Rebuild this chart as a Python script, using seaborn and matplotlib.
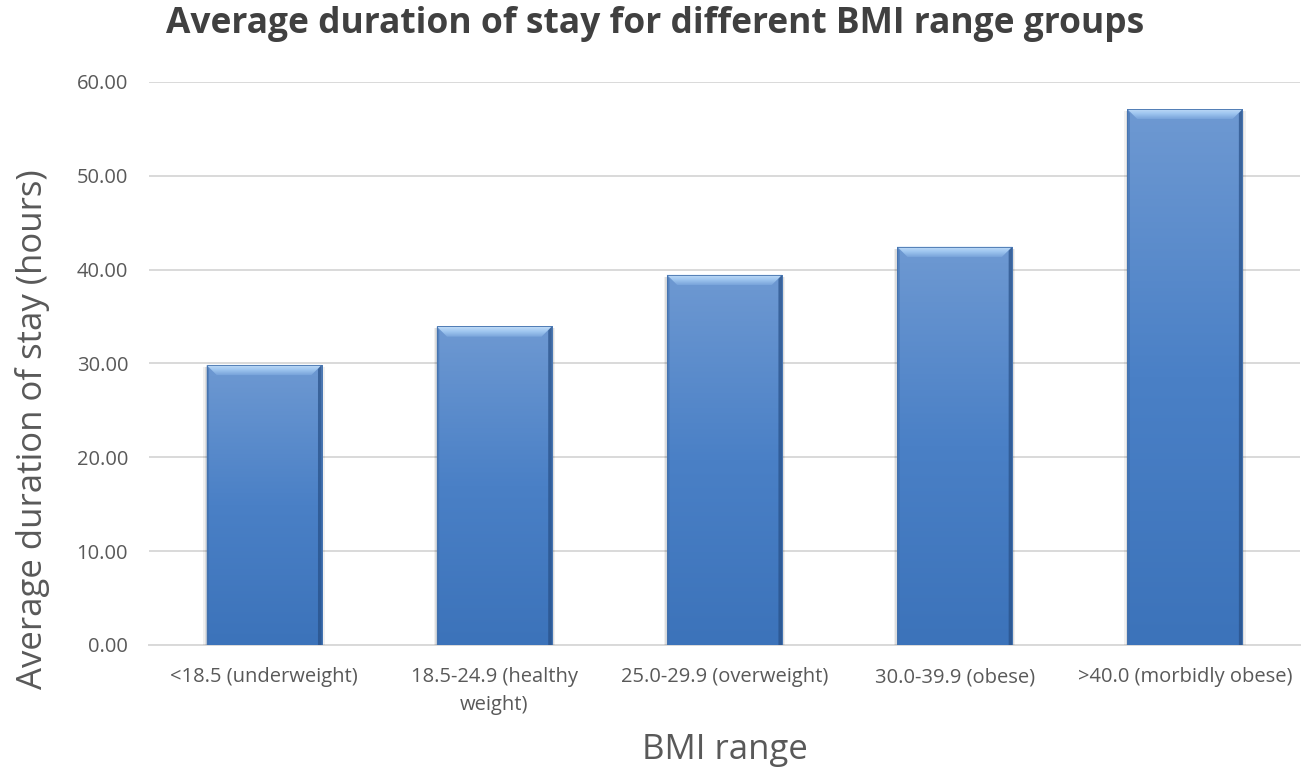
import numpy as np
import pandas as pd
import matplotlib
matplotlib.use("Agg")
import matplotlib.pyplot as plt
import seaborn as sns
from matplotlib.colors import LinearSegmentedColormap
from matplotlib.patches import Polygon, Rectangle

# BMI groups and their average length of stay (hours)
bmi_ranges = [
    "<18.5 (underweight)",
    "18.5-24.9 (healthy\nweight)",
    "25.0-29.9 (overweight)",
    "30.0-39.9 (obese)",
    ">40.0 (morbidly obese)",
]
avg_stay_hours = [29.85, 33.95, 39.45, 42.45, 57.10]
y_ticks = [0, 10, 20, 30, 40, 50, 60]

sns.set_theme(style="white")
plt.rcParams["font.family"] = ["Open Sans", "DejaVu Sans"]

df = pd.DataFrame({"bmi": bmi_ranges, "hours": avg_stay_hours})

fig = plt.figure(figsize=(13.02, 7.73), dpi=100)
ax = fig.add_axes([0.1144, 0.1656, 0.8841, 0.7284])

sns.barplot(data=df, x="bmi", y="hours", ax=ax, color="#4f81c4",
            width=0.5, saturation=1, zorder=3)

ax.set_ylim(0, 60)
ax.set_xlim(-0.5, len(bmi_ranges) - 0.5)
ax.set_yticks(y_ticks)
ax.set_yticklabels([f"{v:.2f}" for v in y_ticks])
ax.yaxis.grid(True, color="#d9d9d9", linewidth=1.4, zorder=0)
ax.xaxis.grid(False)
for side in ["top", "right", "left"]:
    ax.spines[side].set_visible(False)
ax.spines["bottom"].set_color("#d9d9d9")
ax.spines["bottom"].set_linewidth(1.4)
ax.spines["bottom"].set_zorder(1)
ax.tick_params(axis="both", length=0, labelsize=14.5, labelcolor="#595959")
ax.tick_params(axis="y", pad=15)
ax.tick_params(axis="x", pad=16)
for lbl in ax.get_xticklabels():
    lbl.set_linespacing(1.55)

# Vertical gradient fill with a soft bevel on each bar
body_cmap = LinearSegmentedColormap.from_list(
    "bar_body", ["#3c73ba", "#4a80c6", "#6e99d2"])
bevel_cmap = LinearSegmentedColormap.from_list(
    "bar_bevel", ["#78a3da", "#9fc6f0", "#c4def8"])
grad = np.linspace(0, 1, 256).reshape(-1, 1)
bev_h = 1.1      # bevel depth in data units
bev_w = 0.045    # bevel inset in category units
for patch in list(ax.patches):
    x0, y0 = patch.get_x(), patch.get_y()
    w, h = patch.get_width(), patch.get_height()
    x1, y1 = x0 + w, y0 + h
    # soft drop shadow on both sides
    for off, a in [(0.014, 0.06), (0.008, 0.08)]:
        ax.add_patch(Rectangle((x0 - off, y0), w + 2 * off, h - 0.2,
                               facecolor="#000000", alpha=a,
                               edgecolor="none", zorder=2.5))
    im = ax.imshow(grad, cmap=body_cmap, aspect="auto", origin="lower",
                   extent=[x0, x1, y0, y1], zorder=3.2)
    im.set_clip_path(patch)
    # top bevel: trapezoid lit from above
    top = Polygon([(x0, y1), (x1, y1), (x1 - bev_w, y1 - bev_h),
                   (x0 + bev_w, y1 - bev_h)], closed=True,
                  facecolor="none", edgecolor="none", zorder=3.4)
    ax.add_patch(top)
    imb = ax.imshow(grad, cmap=bevel_cmap, aspect="auto", origin="lower",
                    extent=[x0, x1, y1 - bev_h, y1], zorder=3.4)
    imb.set_clip_path(top)
    # side bevels, slightly darker
    left = Polygon([(x0, y1), (x0 + bev_w * 0.25, y1 - bev_h * 0.4),
                    (x0 + bev_w * 0.25, y0), (x0, y0)], closed=True,
                   facecolor="#3d6cab", alpha=0.5, edgecolor="none", zorder=3.5)
    right = Polygon([(x1, y1), (x1 - bev_w * 0.35, y1 - bev_h * 0.4),
                     (x1 - bev_w * 0.35, y0), (x1, y0)], closed=True,
                    facecolor="#274f86", alpha=0.7, edgecolor="none", zorder=3.5)
    ax.add_patch(left)
    ax.add_patch(right)
    patch.set_facecolor("none")
    patch.set_edgecolor("#4472ad")
    patch.set_linewidth(0.6)
    patch.set_zorder(3.6)

ax.set_xlabel("BMI range", fontsize=25, color="#595959")
ax.xaxis.set_label_coords(0.5, -0.156)
ax.set_ylabel("Average duration of stay (hours)", fontsize=25, color="#595959")
ax.yaxis.set_label_coords(-0.086, 0.384)
fig.suptitle("Average duration of stay for different BMI range groups",
             fontsize=25.5, fontweight="bold", color="#404040", x=0.503, y=0.992)

fig.savefig("out.png", dpi=100)
